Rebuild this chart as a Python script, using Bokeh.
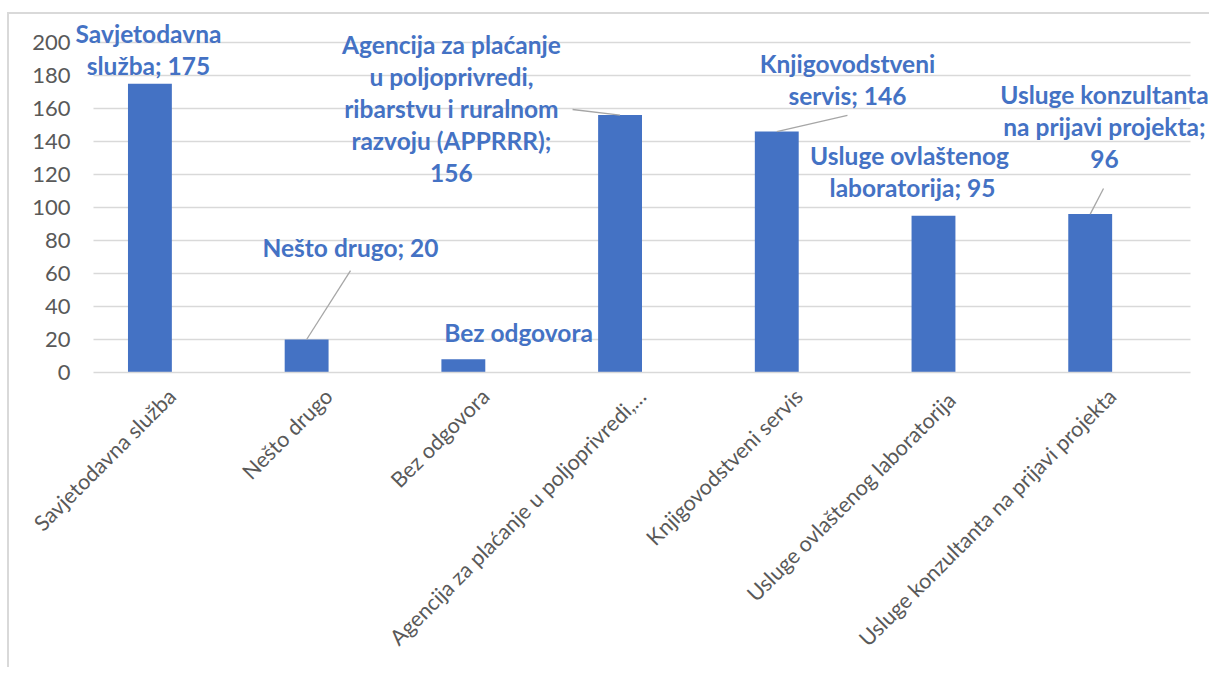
from bokeh.plotting import figure
from bokeh.models import Range1d, FixedTicker, ColumnDataSource, LabelSet
from bokeh.core.properties import value
from bokeh.embed import file_html
from bokeh.resources import INLINE

# ---------------- data ----------------
categories = [
    "Savjetodavna služba",
    "Nešto drugo",
    "Bez odgovora",
    "Agencija za plaćanje u poljoprivredi,…",
    "Knjigovodstveni servis",
    "Usluge  ovlaštenog laboratorija",
    "Usluge konzultanta na prijavi projekta",
]
values = [175, 20, 8, 156, 146, 95, 96]
y_ticks = [0, 20, 40, 60, 80, 100, 120, 140, 160, 180, 200]
data_labels = [
    ["Savjetodavna", "služba; 175"],
    ["Nešto drugo; 20"],
    ["Bez odgovora"],
    ["Agencija za plaćanje", "u poljoprivredi,", "ribarstvu i ruralnom", "razvoju (APPRRR);", "156"],
    ["Knjigovodstveni", "servis; 146"],
    ["Usluge  ovlaštenog", "laboratorija; 95"],
    ["Usluge konzultanta", "na prijavi projekta;", "96"],
]

# ---------------- layout (label placement, like manually moved Excel labels) ----------------
BAR_SHIFT = -0.14          # bars sit left of category centre (empty 2nd series in Excel)
BAR_WIDTH = 0.28
label_dx = [-0.149, 0.140, 0.212, -1.216, 0.311, -0.274, -0.049]   # offset from category centre
label_y = [199.4, 69.7, 18.2, 193.3, 181.8, 125.5, 163.0]          # first-line baseline (data)
leader_from = {1: (0.140, 61.8), 3: (-0.443, 159.4), 4: (0.311, 155.8), 6: (-0.055, 111.5)}
LINE_PX = 32
PX_PER_UNIT = 1.65
Y_MAX = 200
line_step = LINE_PX / PX_PER_UNIT

BLUE = "#4472C4"
GRID = "#d9d9d9"
GRAY_TXT = "#595959"
FONT = "Lato"

n = len(categories)
idx = list(range(n))
X_PAD = 0.134     # extra frame room so that data labels are not clipped
Y_TOP = Y_MAX + 28 / PX_PER_UNIT

p = figure(width=1202, height=655, output_backend="svg", toolbar_location=None,
           x_range=Range1d(-0.5 - X_PAD, n - 0.5 + X_PAD), y_range=Range1d(0, Y_TOP),
           min_border_left=63, min_border_right=0, min_border_top=0, min_border_bottom=297)
p.styles = {"margin-top": "12px", "margin-left": "7px",
            "border-left": "2px solid #d9d9d9", "border-top": "2px solid #d9d9d9"}
p.outline_line_color = None
p.background_fill_color = "white"
p.border_fill_color = "white"

bar_src = ColumnDataSource(dict(x=[i + BAR_SHIFT for i in idx], top=values))
p.vbar(x="x", top="top", width=BAR_WIDTH, bottom=0, source=bar_src,
       fill_color=BLUE, line_color=None)

# leader lines
lx0, ly0, lx1, ly1 = [], [], [], []
for i, (dx, yy) in leader_from.items():
    lx0.append(i + dx); ly0.append(yy)
    lx1.append(i + BAR_SHIFT); ly1.append(values[i])
p.segment(x0=lx0, y0=ly0, x1=lx1, y1=ly1, line_color="#a6a6a6", line_width=1.3)

# data labels
tx, ty, tt = [], [], []
for i, lines in enumerate(data_labels):
    for k, line in enumerate(lines):
        tx.append(i + label_dx[i])
        ty.append(label_y[i] - k * line_step)
        tt.append(line)
lab_src = ColumnDataSource(dict(x=tx, y=ty, text=tt))
p.add_layout(LabelSet(x="x", y="y", text="text", source=lab_src,
                      text_align="center", text_baseline="alphabetic",
                      text_font=value(FONT), text_font_style="bold", text_font_size="24.5px",
                      text_color=BLUE))

# axes
p.xaxis.ticker = FixedTicker(ticks=idx)
p.xaxis.bounds = (-0.5, n - 0.5)
p.xaxis.major_label_overrides = {i: c for i, c in zip(idx, categories)}
p.xaxis.major_label_orientation = 0.7854
p.xaxis.major_label_text_font = FONT
p.xaxis.major_label_text_font_size = "21.5px"
p.xaxis.major_label_text_color = GRAY_TXT
p.xaxis.axis_line_color = GRID
p.xaxis.axis_line_width = 1.3
p.xaxis.major_tick_line_color = None
p.xaxis.minor_tick_line_color = None
p.xaxis.major_tick_out = 0
p.xaxis.major_tick_in = 0
p.xaxis.major_label_standoff = 20

p.yaxis.ticker = FixedTicker(ticks=y_ticks)
p.yaxis.major_label_text_font = FONT
p.yaxis.major_label_text_font_size = "22px"
p.yaxis.major_label_text_color = GRAY_TXT
p.yaxis.axis_line_color = None
p.yaxis.major_tick_line_color = None
p.yaxis.minor_tick_line_color = None
p.yaxis.major_tick_out = 0
p.yaxis.major_tick_in = 0
p.yaxis.major_label_standoff = 2

p.xgrid.grid_line_color = None
p.ygrid.grid_line_color = GRID
p.ygrid.grid_line_width = 1.3
p.ygrid.ticker = FixedTicker(ticks=y_ticks)
p.ygrid.cross_bounds = (-0.5, n - 0.5)

open("out.html", "w").write(file_html(p, INLINE))
